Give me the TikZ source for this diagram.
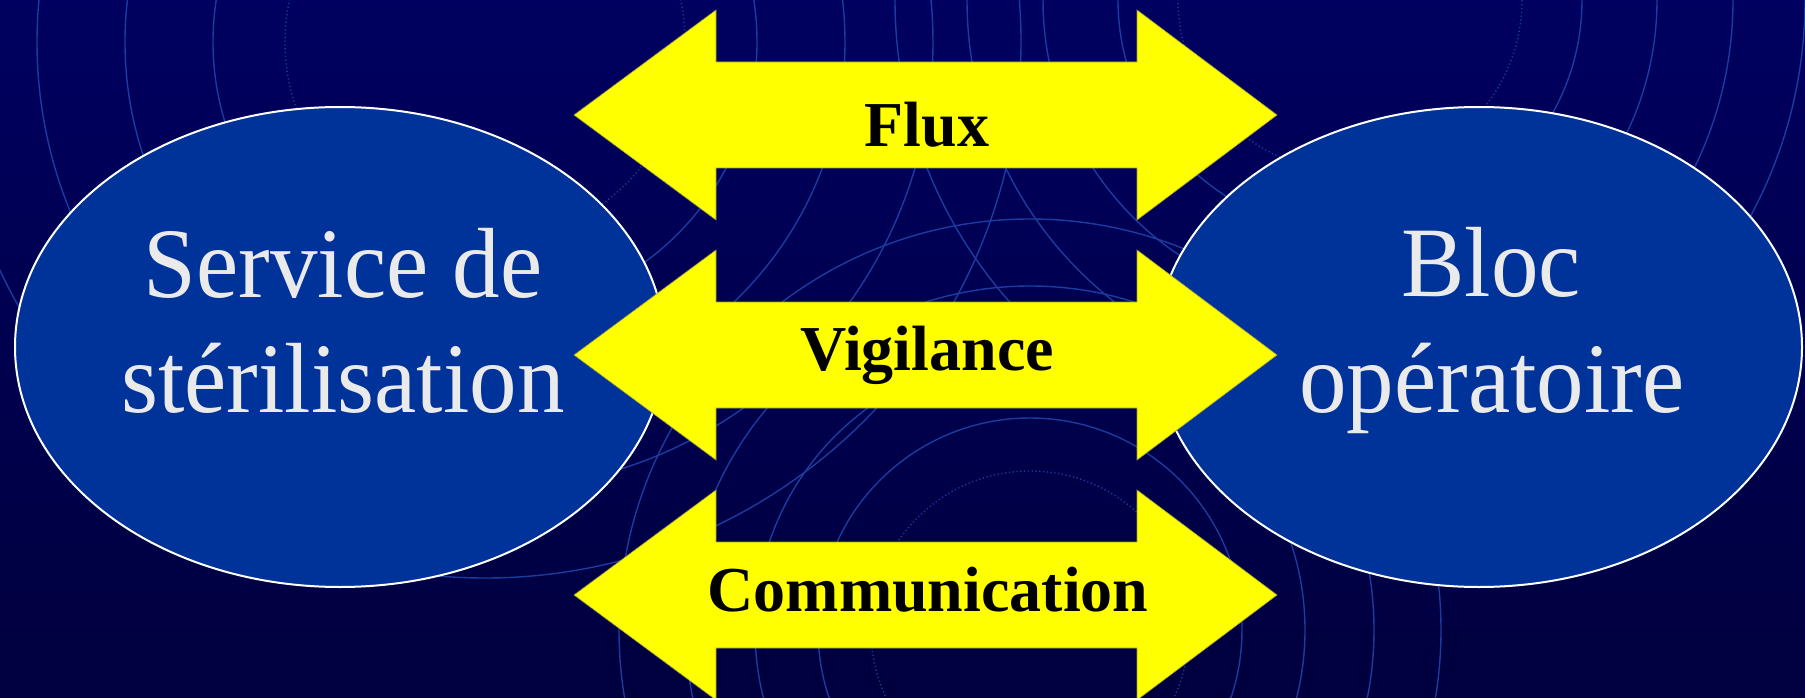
\documentclass[tikz,border=0pt]{standalone}
\usepackage{fontspec}
\setmainfont{Liberation Serif}
\usetikzlibrary{shapes.geometric}
\definecolor{bgtop}{HTML}{000060}
\definecolor{bgbot}{HTML}{00003E}
\definecolor{ring}{HTML}{1A3C9E}
\definecolor{ellfill}{HTML}{003399}
\definecolor{elltext}{HTML}{EAEAEA}
\definecolor{arrowyel}{HTML}{FFFF00}
\definecolor{arrowedge}{HTML}{9A9A40}
\tikzset{
  ringline/.style={draw=ring, line width=1.4pt},
  ringdot/.style={draw=ring, line width=1.4pt, dash pattern=on 1.2pt off 2.6pt},
  bubble/.style={ellipse, draw=white, line width=2pt, fill=ellfill, minimum height=480pt, inner sep=0pt},
  bubbletext/.style={text=elltext, font=\fontsize{95}{115}\selectfont, anchor=base, inner sep=0pt},
  flowarrow/.style={fill=arrowyel, draw=arrowedge, line width=0.6pt},
  arrowlabel/.style={text=black, font=\fontsize{64}{70}\selectfont\bfseries, anchor=base, inner sep=0pt},
}
\newcommand\drawflowarrow[1]{%
  \filldraw[flowarrow] (574,#1) -- (716,{#1-105}) -- (716,{#1-53}) -- (1137,{#1-53})
    -- (1137,{#1-105}) -- (1277,#1) -- (1137,{#1+105}) -- (1137,{#1+53})
    -- (716,{#1+53}) -- (716,{#1+105}) -- cycle;}
\newcommand\tallish[1]{\scalebox{1}[1.05]{#1}}
\begin{document}
\begin{tikzpicture}[x=1pt,y=-1pt]
\useasboundingbox (0,0) rectangle (1805,698);
\clip (0,0) rectangle (1805,698);
\shade[top color=bgtop, bottom color=bgbot] (0,0) rectangle (1805,698);
% background rings
\foreach \r in {272,360,448,536} \draw[ringline] (485,42) circle[radius=\r pt];
\draw[ringdot] (485,42) circle[radius=200pt];
\foreach \r in {232,307,383,455} \draw[ringline] (1350,0) circle[radius=\r pt];
\draw[ringdot] (1350,0) circle[radius=172pt];
\foreach \r in {212,275,344,411} \draw[ringline] (1030,630) circle[radius=\r pt];
\draw[ringdot] (1030,630) circle[radius=159pt];
% ellipses
\node[bubble, minimum width=650pt] (sterile) at (340,347) {};
\node[bubble, minimum width=646pt] (bloc) at (1479,347) {};
\node[bubbletext] (sterileA) at (343,297) {\tallish{Service de}};
\node[bubbletext] (sterileB) at (343,412) {\tallish{stérilisation}};
\node[bubbletext] (blocA) at (1491,296) {\tallish{Bloc}};
\node[bubbletext] (blocB) at (1492,412) {\tallish{opératoire}};
% arrows
\drawflowarrow{115}
\drawflowarrow{355}
\drawflowarrow{595}
\node[arrowlabel] (flux) at (927,147) {Flux};
\node[arrowlabel] (vig) at (927,370) {Vigilance};
\node[arrowlabel] (comm) at (928,611) {Communication};
\end{tikzpicture}
\end{document}
